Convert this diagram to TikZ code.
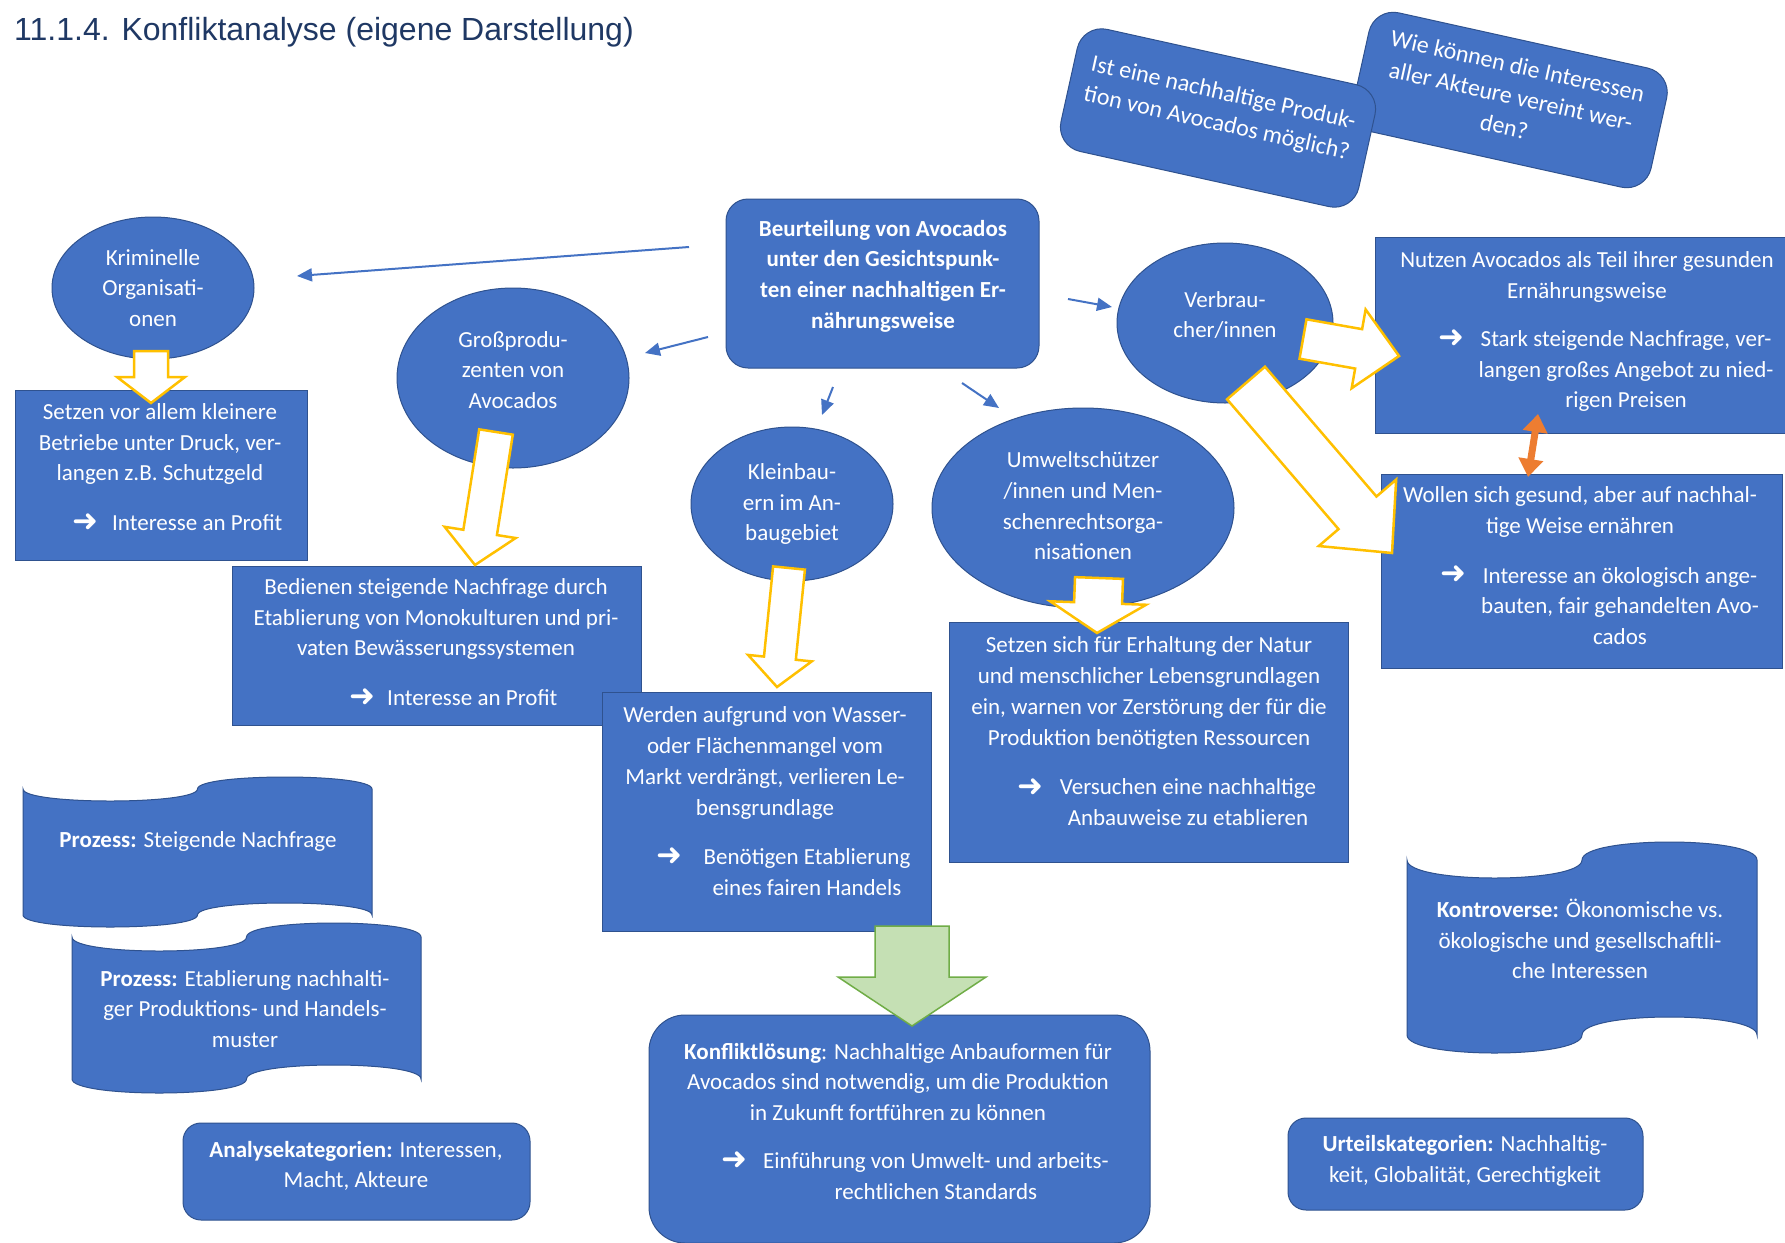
\documentclass[tikz,border=0pt]{standalone}
\usepackage{fontspec}
\setmainfont{Carlito}
\newfontfamily\titlefont{Liberation Sans}
\newfontfamily\symfont{DejaVu Sans}
\usetikzlibrary{shapes.geometric,calc,arrows.meta}
\definecolor{cblue}{HTML}{4472C4}
\definecolor{cborder}{HTML}{2F528F}
\definecolor{cyellow}{HTML}{FFC000}
\definecolor{cgreenf}{HTML}{C5E0B4}
\definecolor{cgreend}{HTML}{70AD47}
\definecolor{corange}{HTML}{ED7D31}
\definecolor{ctitle}{HTML}{1F3864}
\tikzset{
 bluebox/.style={fill=cblue, draw=cborder, line width=1pt},
 rectbox/.style={bluebox, rectangle, inner sep=0pt},
 roundbox/.style={bluebox, rectangle, rounded corners=#1, inner sep=0pt},
 roundbox/.default=20pt,
 ellbox/.style={bluebox, ellipse, inner sep=0pt},
 wtxt/.style={text=white, align=center, inner sep=0pt, font=\fontsize{23}{30.7}\selectfont},
 qtxt/.style={text=white, align=center, inner sep=0pt, font=\fontsize{24}{31}\selectfont},
 arrsym/.style={text=white, inner sep=0pt, font=\symfont\fontsize{31}{31}\selectfont},
 yarrow/.style={draw=cyellow, fill=white, line width=2.5pt, line join=miter},
 garrow/.style={draw=cgreend, fill=cgreenf, line width=1.5pt, line join=miter},
 bluearrow/.style={draw=cblue, line width=2pt, -{Triangle[length=15pt,width=13pt]}},
 orangearrow/.style={draw=corange, line width=7pt, {Triangle[length=18pt,width=24pt]}-{Triangle[length=18pt,width=24pt]}},
}
% block arrow: [style]{start}{tip}{shaft half width}{head half width}{head length}
\newcommand\blockarrow[6][]{%
  \coordinate (bah) at ($(#3)!#6!(#2)$);
  \draw[#1] ($(#2)!#4!90:(#3)$) -- ($(bah)!#4!90:(#3)$) -- ($(bah)!#5!90:(#3)$) -- (#3)
    -- ($(bah)!#5!-90:(#3)$) -- ($(bah)!#4!-90:(#3)$) -- ($(#2)!#4!-90:(#3)$) -- cycle;}
% punched tape banner: {x0}{y0}{w}{h}{a}
\newcommand\punchtape[5]{%
  \pgfmathsetmacro\ptxa{#1}\pgfmathsetmacro\ptxb{#1+#3/2}\pgfmathsetmacro\ptxc{#1+#3}%
  \pgfmathsetmacro\ptya{#2+#5}\pgfmathsetmacro\ptyb{#2+#4-#5}\pgfmathsetmacro\ptk{4/3*#5}%
  \draw[bluebox] (\ptxa,\ptya) .. controls (\ptxa,\ptya+\ptk) and (\ptxb,\ptya+\ptk) .. (\ptxb,\ptya)
    .. controls (\ptxb,\ptya-\ptk) and (\ptxc,\ptya-\ptk) .. (\ptxc,\ptya) -- (\ptxc,\ptyb)
    .. controls (\ptxc,\ptyb-\ptk) and (\ptxb,\ptyb-\ptk) .. (\ptxb,\ptyb)
    .. controls (\ptxb,\ptyb+\ptk) and (\ptxa,\ptyb+\ptk) .. (\ptxa,\ptyb) -- cycle;}
\begin{document}
\begin{tikzpicture}[x=1pt,y=-1pt]
\fill[white] (0,0) rectangle (1785,1242);
\useasboundingbox (0,0) rectangle (1785,1242);

% title
\node[anchor=base west, inner sep=0pt, text=ctitle, font=\titlefont\fontsize{32}{36}\selectfont] (title) at (14,40) {11.1.4. Konfliktanalyse (eigene Darstellung)};

% question cards
\begin{scope}
\clip (1200,9) rectangle (1785,320);
\node[roundbox=25pt, rotate=-12.5, minimum width=305pt, minimum height=122pt] (q2) at (1510,100) {};
\end{scope}
\node[qtxt, rotate=-12.5] (q2t) at (1511,96) {Wie können die Interessen\\aller Akteure vereint wer-\\den?};
\node[roundbox=25pt, rotate=-12.5, minimum width=305pt, minimum height=125pt] (q1) at (1218,118) {};
\node[qtxt, rotate=-12.5] (q1t) at (1220,109) {Ist eine nachhaltige Produk-\\tion von Avocados möglich?};

% central box
\node[roundbox=22pt, minimum width=313pt, minimum height=169pt] (center) at (882.5,283.5) {};
\node[wtxt, font=\fontsize{23}{30.7}\selectfont\bfseries] (centert) at (883,276) {Beurteilung von Avocados\\unter den Gesichtspunk-\\ten einer nachhaltigen Er-\\nährungsweise};

% ellipses
\node[ellbox, minimum width=202pt, minimum height=142pt] (krim) at (153,288) {};
\node[wtxt] (krimt) at (153,288) {Kriminelle\\Organisati-\\onen};
\node[ellbox, minimum width=232pt, minimum height=180pt] (gross) at (513,378) {};
\node[wtxt] (grosst) at (513,370) {Großprodu-\\zenten von\\Avocados};
\node[ellbox, minimum width=202pt, minimum height=154pt] (klein) at (792,504) {};
\node[wtxt] (kleint) at (792,504) {Kleinbau-\\ern im An-\\baugebiet};
\node[ellbox, minimum width=302pt, minimum height=200pt] (umwelt) at (1083,508) {};
\node[wtxt] (umweltt) at (1083,506) {Umweltschützer\\/innen und Men-\\schenrechtsorga-\\nisationen};
\node[ellbox, minimum width=216pt, minimum height=160pt] (verb) at (1225,323) {};
\node[wtxt] (verbt) at (1225,315) {Verbrau-\\cher/innen};

% rectangular boxes
\node[rectbox, minimum width=292pt, minimum height=170pt] (b1) at (161,475) {};
\node[wtxt] (b1t) at (160,444) {Setzen vor allem kleinere\\Betriebe unter Druck, ver-\\langen z.B. Schutzgeld};
\node[arrsym] (b1a) at (85,523) {➜};
\node[wtxt, anchor=west] (b1c) at (112,523) {Interesse an Profit};

\node[rectbox, minimum width=409pt, minimum height=159pt] (b2) at (436.5,645.5) {};
\node[wtxt] (b2t) at (436,619) {Bedienen steigende Nachfrage durch\\Etablierung von Monokulturen und pri-\\vaten Bewässerungssystemen};
\node[arrsym] (b2a) at (362,698) {➜};
\node[wtxt, anchor=west] (b2c) at (387,698) {Interesse an Profit};

\node[rectbox, minimum width=329pt, minimum height=239pt] (b3) at (766.5,811.5) {};
\node[wtxt] (b3t) at (765,763) {Werden aufgrund von Wasser-\\oder Flächenmangel vom\\Markt verdrängt, verlieren Le-\\bensgrundlage};
\node[arrsym] (b3a) at (669,857) {➜};
\node[wtxt] (b3c) at (807,872) {Benötigen Etablierung\\eines fairen Handels};

\node[rectbox, minimum width=399pt, minimum height=240pt] (b4) at (1148.5,742) {};
\node[wtxt] (b4t) at (1149,693) {Setzen sich für Erhaltung der Natur\\und menschlicher Lebensgrundlagen\\ein, warnen vor Zerstörung der für die\\Produktion benötigten Ressourcen};
\node[arrsym] (b4a) at (1030,788) {➜};
\node[wtxt] (b4c) at (1188,802) {Versuchen eine nachhaltige\\Anbauweise zu etablieren};

\node[rectbox, minimum width=410pt, minimum height=196pt] (b5) at (1580,335) {};
\node[wtxt] (b5t) at (1587,277) {Nutzen Avocados als Teil ihrer gesunden\\Ernährungsweise};
\node[arrsym] (b5a) at (1451,339) {➜};
\node[wtxt] (b5c) at (1626,371) {Stark steigende Nachfrage, ver-\\langen großes Angebot zu nied-\\rigen Preisen};

\node[rectbox, minimum width=401pt, minimum height=194pt] (b6) at (1581.5,571) {};
\node[wtxt] (b6t) at (1580,512) {Wollen sich gesund, aber auf nachhal-\\tige Weise ernähren};
\node[arrsym] (b6a) at (1453,575) {➜};
\node[wtxt] (b6c) at (1620,606) {Interesse an ökologisch ange-\\bauten, fair gehandelten Avo-\\cados};

% banners
\punchtape{23}{777}{349}{150}{12}
\node[wtxt] (p1t) at (198,841) {\textbf{Prozess:} Steigende Nachfrage};
\punchtape{72}{923}{349}{170}{14}
\node[wtxt] (p2t) at (245,1009) {\textbf{Prozess:} Etablierung nachhalti-\\ger Produktions- und Handels-\\muster};
\punchtape{1407}{842}{350}{211}{18}
\node[wtxt] (kt) at (1580,939) {\textbf{Kontroverse:} Ökonomische vs.\\ökologische und gesellschaftli-\\che Interessen};

% bottom boxes
\node[roundbox=18pt, minimum width=347pt, minimum height=97pt] (ana) at (356.5,1171.5) {};
\node[wtxt] (anat) at (356,1166) {\textbf{Analysekategorien:} Interessen,\\Macht, Akteure};
\node[roundbox=18pt, minimum width=355pt, minimum height=92pt] (urt) at (1465.5,1164) {};
\node[wtxt] (urtt) at (1465,1161) {\textbf{Urteilskategorien:} Nachhaltig-\\keit, Globalität, Gerechtigkeit};
\node[roundbox=36pt, minimum width=501pt, minimum height=228pt] (konf) at (899.5,1129) {};
\node[wtxt] (konft) at (898,1082) {\textbf{Konfliktlösung}: Nachhaltige Anbauformen für\\Avocados sind notwendig, um die Produktion\\in Zukunft fortführen zu können};
\node[arrsym] (konfa) at (734,1161) {➜};
\node[wtxt] (konfc) at (936,1176) {Einführung von Umwelt- und arbeits-\\rechtlichen Standards};

% yellow block arrows
\coordinate (ya1s) at (151,351); \coordinate (ya1t) at (151,403);
\coordinate (ya2s) at (496,432); \coordinate (ya2t) at (475,565);
\coordinate (ya3s) at (789,568); \coordinate (ya3t) at (777,687);
\coordinate (ya4s) at (1099,578); \coordinate (ya4t) at (1097,633);
\coordinate (ya5s) at (1303,339); \coordinate (ya5t) at (1399,356);
\coordinate (ya6s) at (1246,383); \coordinate (ya6t) at (1392,553);
\blockarrow[yarrow]{ya1s}{ya1t}{17pt}{34pt}{26pt}
\blockarrow[yarrow]{ya2s}{ya2t}{17pt}{36pt}{33pt}
\blockarrow[yarrow]{ya3s}{ya3t}{16pt}{32pt}{29pt}
\blockarrow[yarrow]{ya4s}{ya4t}{24pt}{48pt}{30pt}
\blockarrow[yarrow]{ya5s}{ya5t}{20pt}{40pt}{41pt}
\blockarrow[yarrow]{ya6s}{ya6t}{25pt}{51pt}{53pt}

% green block arrow
\coordinate (gas) at (912,926); \coordinate (gat) at (912,1026);
\blockarrow[garrow]{gas}{gat}{37pt}{74pt}{49pt}

% thin blue arrows
\coordinate (a1s) at (689,247); \coordinate (a1t) at (297,276);
\coordinate (a2s) at (708,337); \coordinate (a2t) at (645,353);
\coordinate (a3s) at (833,387); \coordinate (a3t) at (822,415);
\coordinate (a4s) at (962,383); \coordinate (a4t) at (999,408);
\coordinate (a5s) at (1068,299); \coordinate (a5t) at (1112,307);
\draw[bluearrow] (a1s) -- (a1t);
\draw[bluearrow] (a2s) -- (a2t);
\draw[bluearrow] (a3s) -- (a3t);
\draw[bluearrow] (a4s) -- (a4t);
\draw[bluearrow] (a5s) -- (a5t);

% orange double arrow
\coordinate (oas) at (1538,414); \coordinate (oat) at (1528,477);
\draw[orangearrow] (oas) -- (oat);
\end{tikzpicture}
\end{document}
